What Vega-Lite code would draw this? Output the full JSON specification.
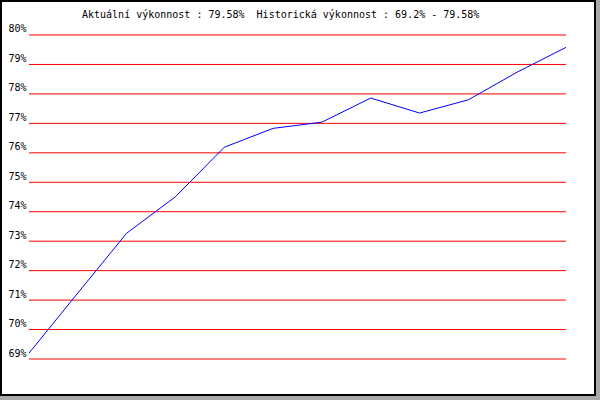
{
  "$schema": "https://vega.github.io/schema/vega-lite/v6.json",
  "width": 594,
  "height": 394,
  "autosize": {"type": "none"},
  "padding": {"left": 1, "top": 1, "right": 5, "bottom": 5},
  "background": "#a9a9a9",
  "config": {
    "view": {"stroke": "#000000", "strokeWidth": 2, "fill": "#ffffff"},
    "font": "DejaVu Sans Mono"
  },
  "title": {
    "text": "Aktuální výkonnost : 79.58% \u00a0Historická výkonnost : 69.2% - 79.58%",
    "anchor": "start",
    "frame": "group",
    "dx": 81,
    "dy": 11,
    "offset": -16,
    "baseline": "alphabetic",
    "font": "DejaVu Sans Mono",
    "fontSize": 10,
    "fontWeight": "normal",
    "color": "#000000"
  },
  "datasets": {
    "perf": [
      {"point": 0, "performance": 69.2},
      {"point": 1, "performance": 71.24},
      {"point": 2, "performance": 73.27},
      {"point": 3, "performance": 74.51},
      {"point": 4, "performance": 76.19},
      {"point": 5, "performance": 76.83},
      {"point": 6, "performance": 77.04},
      {"point": 7, "performance": 77.86},
      {"point": 8, "performance": 77.35},
      {"point": 9, "performance": 77.8},
      {"point": 10, "performance": 78.74},
      {"point": 11, "performance": 79.58}
    ],
    "grid": [
      {"level": 69}, {"level": 70}, {"level": 71}, {"level": 72},
      {"level": 73}, {"level": 74}, {"level": 75}, {"level": 76},
      {"level": 77}, {"level": 78}, {"level": 79}, {"level": 80}
    ]
  },
  "layer": [
    {
      "data": {"name": "grid"},
      "mark": {"type": "rule", "color": "#ff0000", "strokeWidth": 1},
      "encoding": {
        "y": {
          "field": "level",
          "type": "quantitative",
          "scale": {"domain": [67.7778, 81.1543], "nice": false, "zero": false},
          "axis": {
            "title": null,
            "values": [69, 70, 71, 72, 73, 74, 75, 76, 77, 78, 79, 80],
            "labelExpr": "datum.value + '%'",
            "domain": false,
            "ticks": false,
            "tickSize": 0,
            "grid": false,
            "labelPadding": -25,
            "labelAlign": "right",
            "labelBaseline": "alphabetic",
            "labelOffset": -3,
            "labelFont": "DejaVu Sans Mono",
            "labelFontSize": 10,
            "labelColor": "#000000",
            "labelOverlap": false,
            "labelFlush": false
          }
        },
        "x": {
          "datum": 0,
          "type": "quantitative",
          "scale": {"domain": [-0.5736, 11.594], "nice": false, "zero": false},
          "axis": null
        },
        "x2": {"datum": 11}
      }
    },
    {
      "data": {"name": "perf"},
      "mark": {"type": "line", "color": "#0000ff", "strokeWidth": 1},
      "encoding": {
        "x": {"field": "point", "type": "quantitative", "axis": null},
        "y": {
          "field": "performance",
          "type": "quantitative",
          "axis": {
            "title": null,
            "values": [69, 70, 71, 72, 73, 74, 75, 76, 77, 78, 79, 80],
            "labelExpr": "datum.value + '%'",
            "domain": false,
            "ticks": false,
            "tickSize": 0,
            "grid": false,
            "labelPadding": -25,
            "labelAlign": "right",
            "labelBaseline": "alphabetic",
            "labelOffset": -3,
            "labelFont": "DejaVu Sans Mono",
            "labelFontSize": 10,
            "labelColor": "#000000",
            "labelOverlap": false,
            "labelFlush": false
          }
        }
      }
    }
  ]
}
